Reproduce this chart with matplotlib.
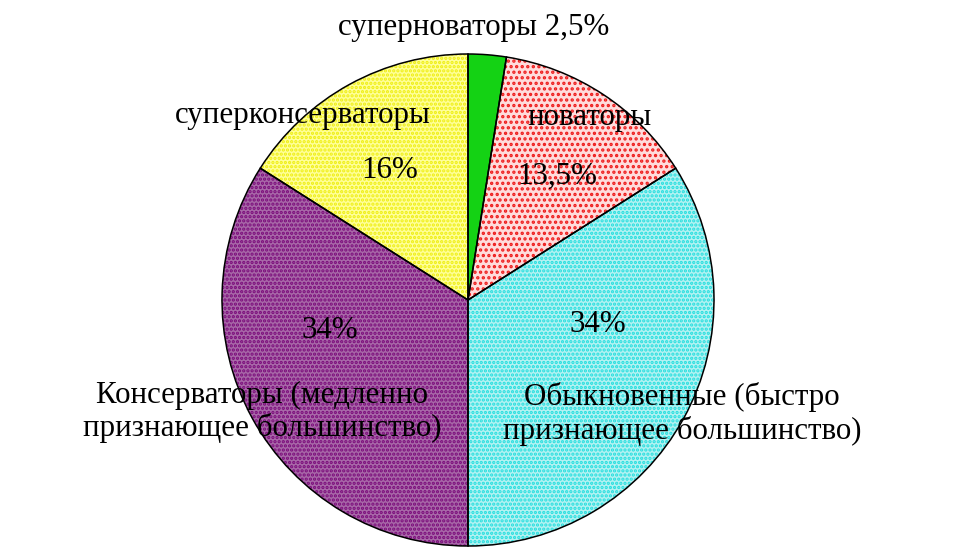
import matplotlib.pyplot as plt

plt.rcParams['font.family'] = ['Liberation Serif', 'DejaVu Serif']
plt.rcParams['hatch.linewidth'] = 1.6

# Data (clockwise from the top)
groups = ['суперноваторы', 'новаторы', 'Обыкновенные', 'Консерваторы', 'суперконсерваторы']
shares = [2.5, 13.5, 34, 34, 16]
pct_labels = ['2,5%', '13,5%', '34%', '34%', '16%']
face_colors = ['#14d214', '#ffdcdc', '#b4f2f2', '#a868a8', '#ffff9a']
dot_colors = ['#14d214', '#ee1c1c', '#22dede', '#7a0a7a', '#eeee10']
hatches = [None, '...', '....', '....', '....']

fig = plt.figure(figsize=(9.6, 5.52), dpi=100)
ax = fig.add_axes([0, 0, 1, 1])

H = 552
center = (468, H - 300)
radius = 246

# textured fill
wedges, _ = ax.pie(shares, startangle=90, counterclock=False, colors=face_colors,
                   center=center, radius=radius, frame=True,
                   wedgeprops=dict(linewidth=0))
for w, hc, dc in zip(wedges, hatches, dot_colors):
    if hc:
        w.set_hatch(hc)
        w.set_edgecolor(dc)
# outlines
ax.pie(shares, startangle=90, counterclock=False, center=center, radius=radius,
       frame=True, wedgeprops=dict(fill=False, edgecolor='black', linewidth=1.1))
ax.set_xlim(0, 960)
ax.set_ylim(0, 552)
ax.set_aspect('auto')
ax.axis('off')

fs = 22.3
ax.text(474, H - 28, f'{groups[0]} {pct_labels[0]}', ha='center', va='center', fontsize=fs)
ax.text(590, H - 118, groups[1], ha='center', va='center', fontsize=fs)
ax.text(557, H - 176, pct_labels[1], ha='center', va='center', fontsize=fs)
ax.text(598, H - 325, pct_labels[2], ha='center', va='center', fontsize=fs)
ax.text(682, H - 414, groups[2] + ' (быстро\nпризнающее большинство)',
        ha='center', va='center', fontsize=fs, linespacing=1.17)
ax.text(330, H - 330, pct_labels[3], ha='center', va='center', fontsize=fs)
ax.text(262, H - 412, groups[3] + ' (медленно\nпризнающее большинство)',
        ha='center', va='center', fontsize=fs, linespacing=1.17)
ax.text(303, H - 116, groups[4], ha='center', va='center', fontsize=fs)
ax.text(390, H - 170, pct_labels[4], ha='center', va='center', fontsize=fs)

fig.savefig('out.png', dpi=100)
